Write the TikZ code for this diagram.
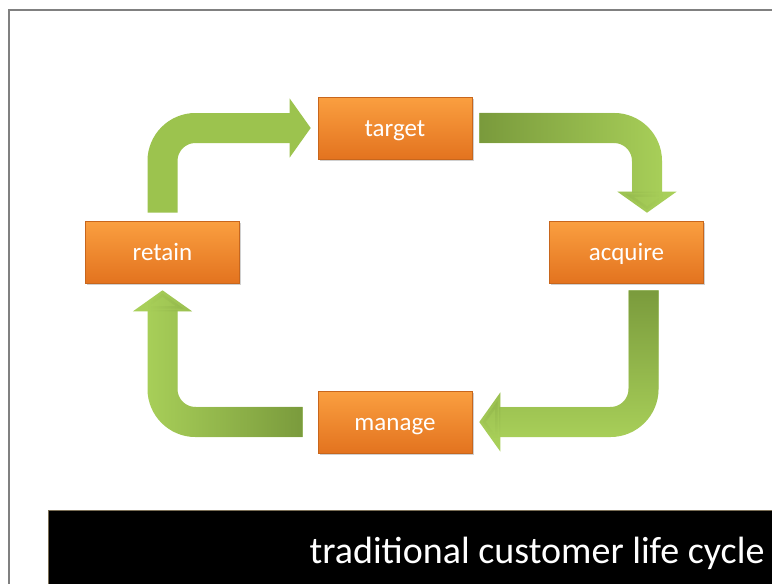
\documentclass[tikz,border=0pt]{standalone}
\usepackage{fontspec}
\setmainfont{Carlito}
\usetikzlibrary{arrows.meta,shadows,fadings}
\definecolor{boxtop}{HTML}{FA9F40}
\definecolor{boxbottom}{HTML}{E3731F}
\definecolor{boxline}{HTML}{C8661C}
\definecolor{leaflight}{HTML}{A8CF59}
\definecolor{leafmid}{HTML}{9CC34E}
\definecolor{leafdark}{HTML}{76963A}
\definecolor{slideframe}{HTML}{808080}
\definecolor{barline}{HTML}{7A6E55}
\tikzset{
	stage/.style={rectangle, minimum width=154pt, minimum height=62pt, inner sep=0pt,
		text height=21pt, text depth=4pt,
		top color=boxtop, bottom color=boxbottom, draw=boxline, line width=0.6pt,
		text=white, font=\fontsize{25}{30}\selectfont,
		drop shadow={shadow xshift=1.5pt, shadow yshift=-2pt, opacity=0.3, fill=black!60}},
	flow/.style={line width=30pt, rounded corners=33pt, -{Triangle[width=58pt,length=21pt]}, draw=leaflight},
	darkflow/.style={flow, draw=leafdark, path fading=#1}
}

\begin{document}
\begin{tikzpicture}[x=1pt,y=-1pt]
			%%%%% START %%%%%
			\useasboundingbox (0,0) rectangle (772,584);
			\fill[white] (0,0) rectangle (772,584);
			\draw[slideframe, line width=2pt] (9,584) -- (9,10) -- (772,10);
			
			\node[stage] (target) at (395,128) {target};
			\node[stage] (acquire) at (626.5,252) {acquire};
			\node[stage] (manage) at (395,422) {manage};
			\node[stage] (retain) at (162.5,252) {retain};
			
			\draw[flow, draw=leafmid] ([yshift=8pt]retain.north) |- ([xshift=-7pt]target.west);
			
			\draw[flow] ([xshift=7pt]target.east) -| ([xshift=20.5pt,yshift=8pt]acquire.north);
			\draw[darkflow=east] ([xshift=7pt]target.east) -| ([xshift=20.5pt,yshift=8pt]acquire.north);
			
			\draw[flow] ([xshift=17pt,yshift=-7pt]acquire.south) |- ([xshift=7pt]manage.east);
			\draw[darkflow=south] ([xshift=17pt,yshift=-7pt]acquire.south) |- ([xshift=7pt]manage.east);
			
			\draw[flow] ([xshift=-15pt]manage.west) -| ([yshift=-7pt]retain.south);
			\draw[darkflow=west] ([xshift=-15pt]manage.west) -| ([yshift=-7pt]retain.south);
			
			\fill[black] (48,510) rectangle (772,584);
			\draw[barline, line width=0.8pt] (48,584) -- (48,510) -- (772,510);
			\node[anchor=base east, text=white, font=\fontsize{38}{46}\selectfont] (caption) at (768,563) {traditional customer life cycle};
			%%%%% END %%%%%
\end{tikzpicture}
\end{document}
